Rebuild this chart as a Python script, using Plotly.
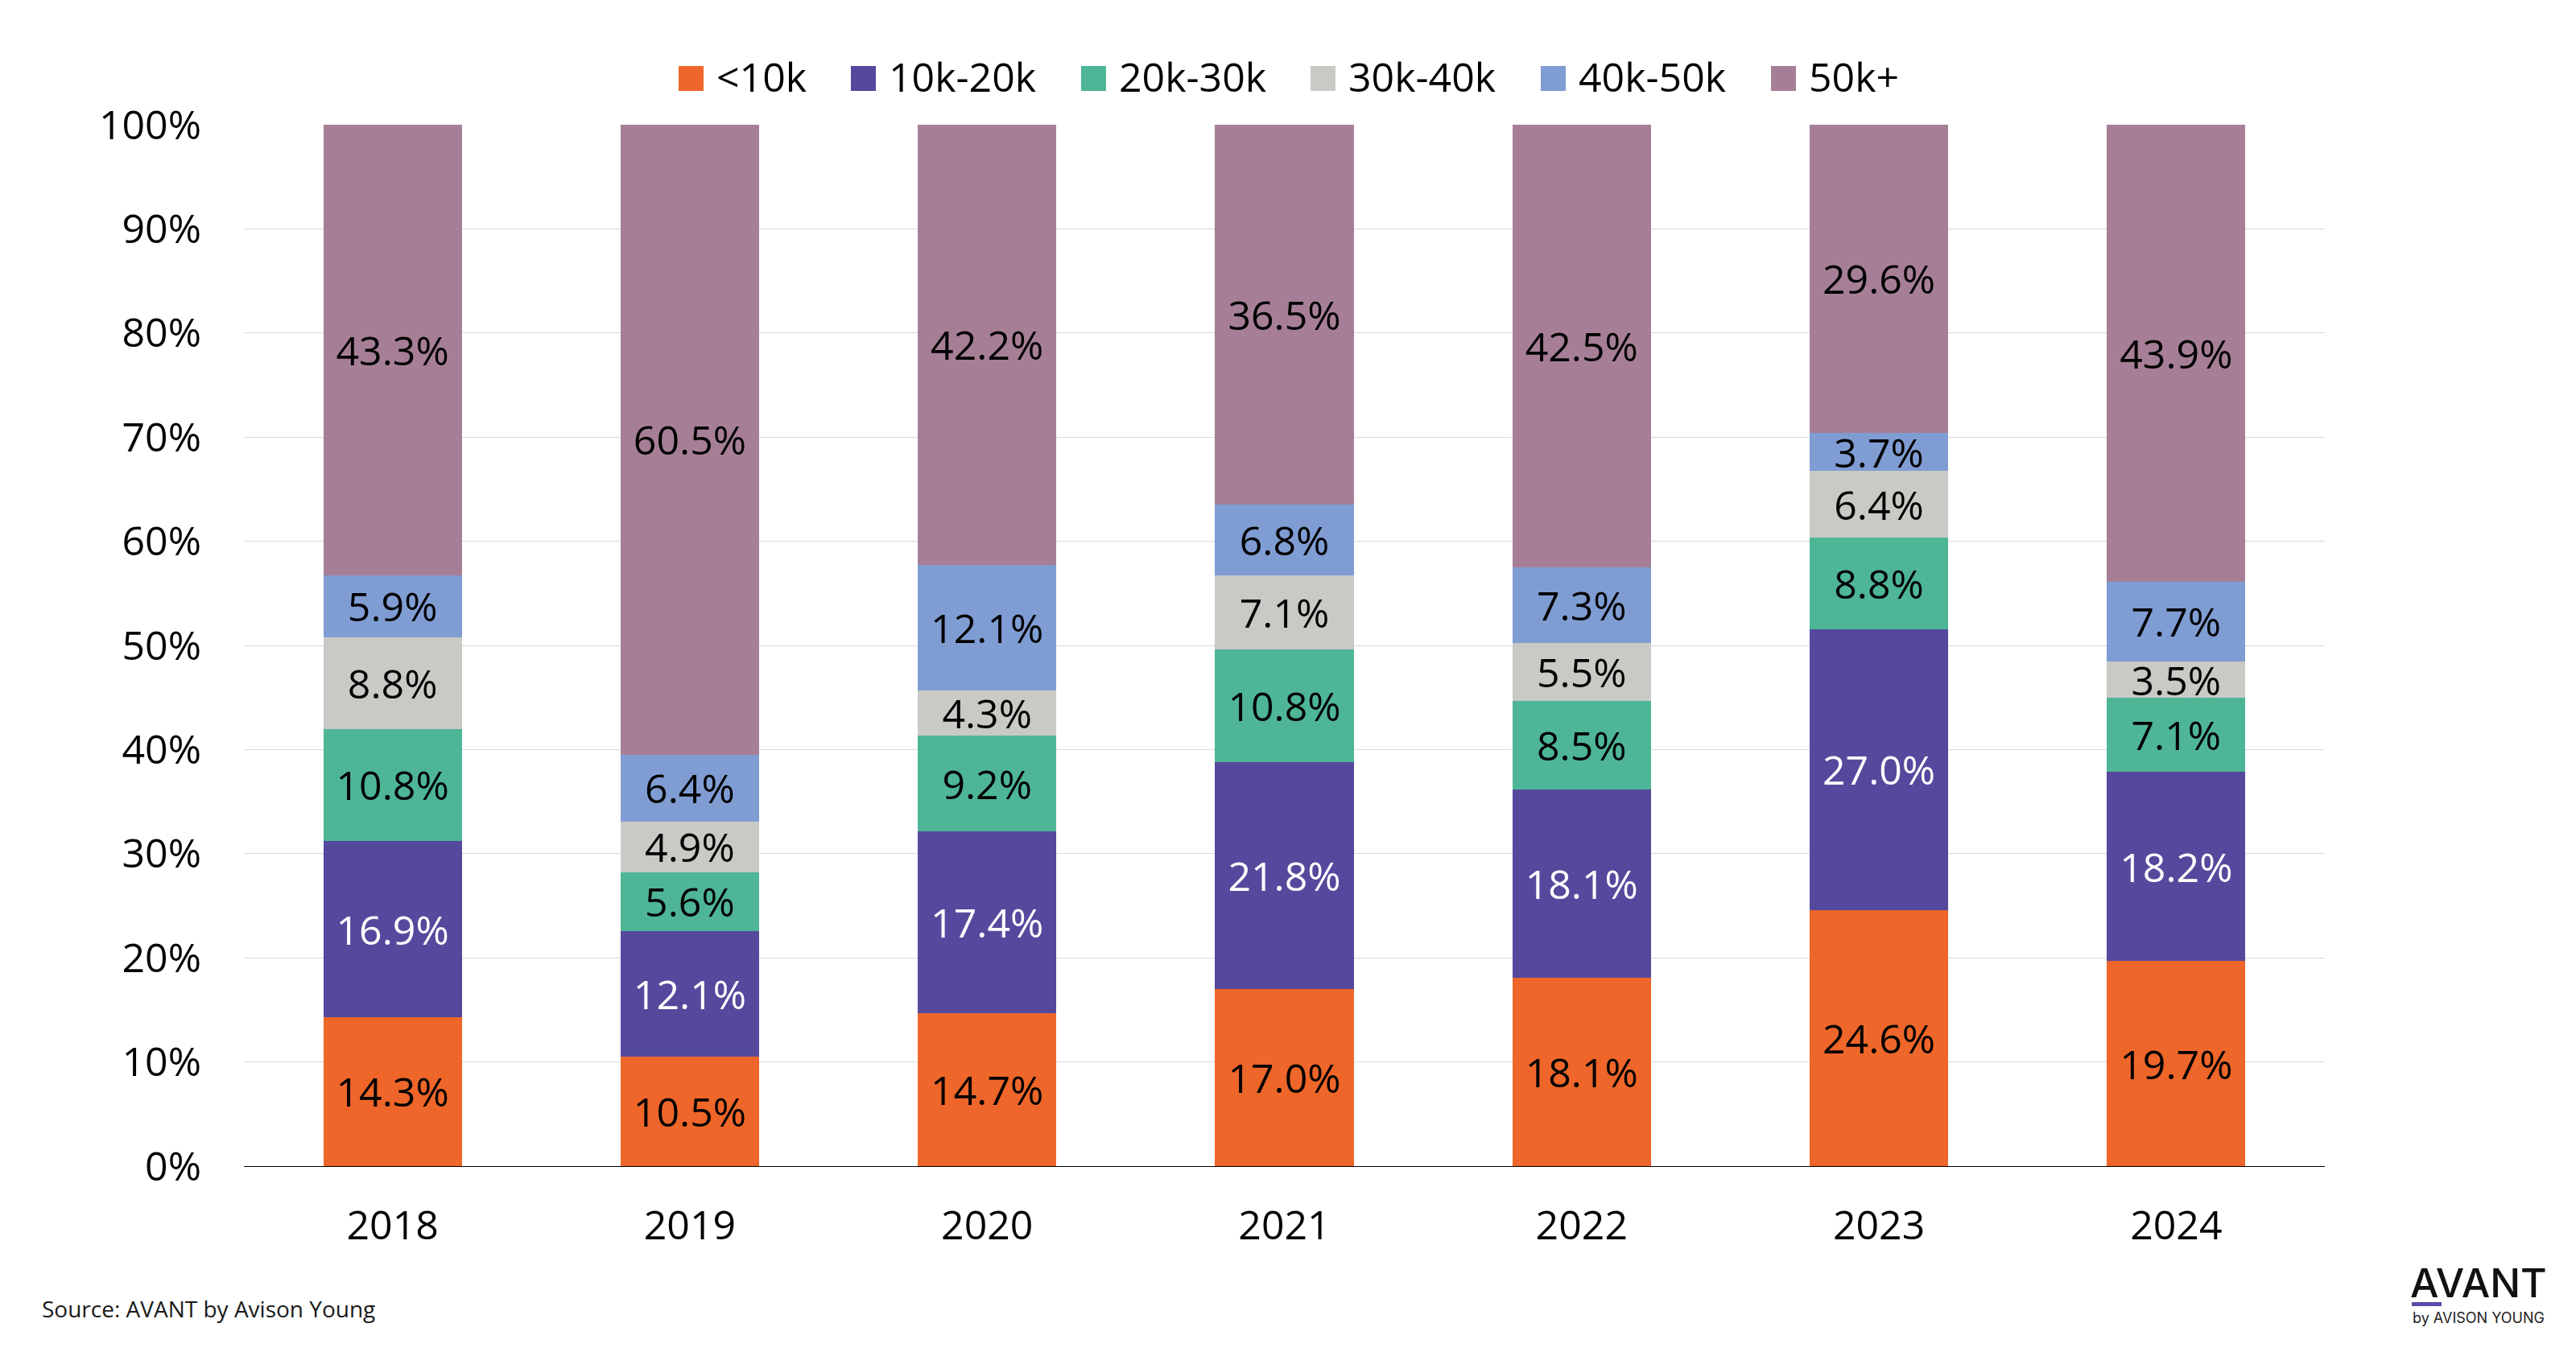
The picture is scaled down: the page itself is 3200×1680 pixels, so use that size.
import plotly.graph_objects as go

# ---------------- data ----------------
years = ["2018", "2019", "2020", "2021", "2022", "2023", "2024"]
series_names = ["<10k", "10k-20k", "20k-30k", "30k-40k", "40k-50k", "50k+"]
lt_10k = [14.3, 10.5, 14.7, 17.0, 18.1, 24.6, 19.7]
k10_20 = [16.9, 12.1, 17.4, 21.8, 18.1, 27.0, 18.2]
k20_30 = [10.8, 5.6, 9.2, 10.8, 8.5, 8.8, 7.1]
k30_40 = [8.8, 4.9, 4.3, 7.1, 5.5, 6.4, 3.5]
k40_50 = [5.9, 6.4, 12.1, 6.8, 7.3, 3.7, 7.7]
k50_plus = [43.3, 60.5, 42.2, 36.5, 42.5, 29.6, 43.9]
y_tick_vals = [0, 10, 20, 30, 40, 50, 60, 70, 80, 90, 100]
y_tick_text = ["0%", "10%", "20%", "30%", "40%", "50%", "60%", "70%", "80%", "90%", "100%"]

series_values = [lt_10k, k10_20, k20_30, k30_40, k40_50, k50_plus]

# ---------------- styles ----------------
colors = ["#EE6629", "#55499D", "#4EB597", "#C9CAC5", "#7F9DD3", "#A67F97"]
label_colors = ["#000000", "#FFFFFF", "#000000", "#000000", "#000000", "#000000"]
FONT = "Open Sans"
FS = 50
W, H = 3200, 1680
OFF = 8  # page body margin offset
# target plot area in page pixels: left 303, right 2888, top 155, bottom 1449
ML = 303 - OFF
MT = 155 - OFF
MR = W - (2888 - OFF)
MB = H - (1449 - OFF)
PW = W - ML - MR
PH = H - MT - MB


def px_x(px):
    return (px - OFF - ML) / PW


def px_y(py):
    return (H - MB - (py - OFF)) / PH


fig = go.Figure()
for name, vals, col, lc in zip(series_names, series_values, colors, label_colors):
    fig.add_trace(go.Bar(
        x=years, y=vals, name=name,
        marker=dict(color=col, line=dict(width=0)),
        text=[f"{v:.1f}%" for v in vals],
        texttemplate="%{text}",
        textposition="inside",
        insidetextanchor="middle",
        constraintext="none",
        textangle=0,
        textfont=dict(family=FONT, size=FS, color=lc),
        showlegend=False,
    ))

# ---------------- custom legend ----------------
legend_swatch_px = [843, 1057, 1343, 1628, 1914, 2200]
shapes = []
annotations = []
for name, col, sx in zip(series_names, colors, legend_swatch_px):
    shapes.append(dict(type="rect", xref="paper", yref="paper",
                       x0=px_x(sx), x1=px_x(sx + 31),
                       y0=px_y(113), y1=px_y(82),
                       fillcolor=col, line=dict(width=0)))
    annotations.append(dict(xref="paper", yref="paper", x=px_x(sx + 45), y=px_y(95),
                            xanchor="left", yanchor="middle", showarrow=False,
                            text=name, font=dict(family=FONT, size=FS, color="#000000")))

# source
annotations.append(dict(xref="paper", yref="paper", x=px_x(50), y=px_y(1626),
                        xanchor="left", yanchor="middle", showarrow=False,
                        text="Source: AVANT by Avison Young",
                        font=dict(family=FONT, size=28, color="#1a1a1a")))
# logo
annotations.append(dict(xref="paper", yref="paper", x=px_x(2992), y=px_y(1594),
                        xanchor="left", yanchor="middle", showarrow=False,
                        text="AVANT",
                        font=dict(family="Inter", size=50, color="#111111", weight=500)))
shapes.append(dict(type="rect", xref="paper", yref="paper",
                   x0=px_x(2996), x1=px_x(3033), y0=px_y(1623), y1=px_y(1618),
                   fillcolor="#5B4BA8", line=dict(width=0)))
annotations.append(dict(xref="paper", yref="paper", x=px_x(2995), y=px_y(1637),
                        xanchor="left", yanchor="middle", showarrow=False,
                        text="by AVISON YOUNG",
                        font=dict(family="Inter", size=18, color="#222222")))

fig.update_layout(
    width=W, height=H,
    margin=dict(l=ML, r=MR, t=MT, b=MB, autoexpand=False),
    barmode="stack", barnorm="percent", bargap=0.534,
    paper_bgcolor="white", plot_bgcolor="white",
    font=dict(family=FONT, size=FS, color="#000000"),
    shapes=shapes, annotations=annotations,
    showlegend=False,
)
fig.update_yaxes(range=[0, 100], tickvals=y_tick_vals, ticktext=y_tick_text,
                 showgrid=True, gridcolor="#D9D9D9", gridwidth=1,
                 zeroline=False, showline=False, ticks="",
                 ticklabelstandoff=52,
                 tickfont=dict(family=FONT, size=FS, color="#000000"))
fig.update_xaxes(showline=True, linecolor="#000000", linewidth=1,
                 showgrid=False, ticks="", ticklabelstandoff=30,
                 tickfont=dict(family=FONT, size=FS, color="#000000"))

fig.write_html("out.html")
